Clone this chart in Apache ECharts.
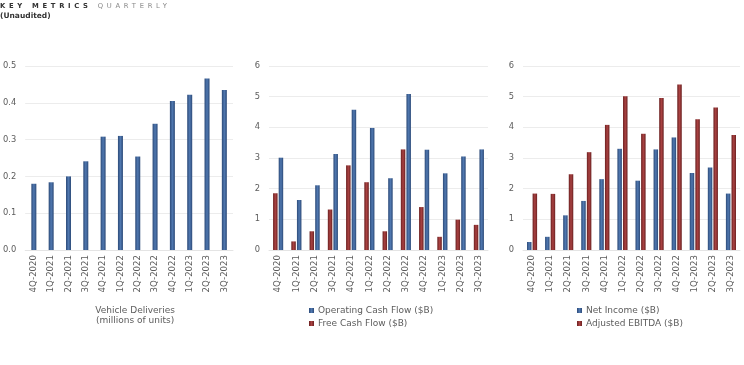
<!DOCTYPE html>
<html>
<head>
<meta charset="utf-8">
<script src="https://cdn.jsdelivr.net/npm/echarts@6/dist/echarts.min.js"></script>
<style>
html,body{margin:0;padding:0;background:#fff;}
#hdr{position:absolute;left:0;top:2px;font-family:"DejaVu Sans",sans-serif;z-index:2;}
#t1{font-size:6.8px;letter-spacing:3.7px;font-weight:bold;color:#333;line-height:9px;}
#t1 span{color:#8a8a8a;font-weight:normal;}
#t2{font-size:7.5px;font-weight:bold;color:#333;line-height:10px;}
#main{width:744px;height:365px;}
</style>
</head>
<body>
<div id="hdr"><div id="t1">KEY METRICS <span>QUARTERLY</span></div><div id="t2">(Unaudited)</div></div>
<div id="main"></div>
<script>
const categories = ['4Q-2020','1Q-2021','2Q-2021','3Q-2021','4Q-2021','1Q-2022','2Q-2022','3Q-2022','4Q-2022','1Q-2023','2Q-2023','3Q-2023'];
const vehicleDeliveries = [0.180, 0.184, 0.200, 0.241, 0.308, 0.310, 0.254, 0.343, 0.405, 0.422, 0.466, 0.435];
const operatingCashFlow = [3.01, 1.63, 2.11, 3.13, 4.57, 3.98, 2.34, 5.09, 3.27, 2.50, 3.05, 3.28];
const freeCashFlow = [1.85, 0.28, 0.61, 1.32, 2.76, 2.21, 0.61, 3.28, 1.40, 0.43, 0.99, 0.82];
const netIncome = [0.26, 0.43, 1.13, 1.60, 2.31, 3.30, 2.26, 3.28, 3.67, 2.51, 2.69, 1.84];
const adjustedEbitda = [1.84, 1.83, 2.47, 3.19, 4.08, 5.01, 3.79, 4.96, 5.40, 4.26, 4.65, 3.75];
const yTicks1 = [0, 0.1, 0.2, 0.3, 0.4, 0.5];
const yTicks23 = [0, 1, 2, 3, 4, 5, 6];

const FONT = 'DejaVu Sans';
const TXT = '#5c5c5c';
function grad(edge, mid){
  return new echarts.graphic.LinearGradient(0,0,1,0,[
    {offset:0,color:edge},{offset:0.5,color:mid},{offset:1,color:edge}]);
}
const BLUE = grad('#2c4a78','#5078b0');
const RED = grad('#6a2020','#aa4242');
const BLUE_L = '#4a78b8';
const RED_L = '#b04040';

function xAx(gi, name){
  return {
    type:'category', gridIndex:gi, data:categories,
    axisTick:{show:false},
    axisLine:{show:true,lineStyle:{color:'#e4e4e4'}},
    axisLabel:{rotate:90, interval:0, margin:5, fontFamily:FONT, fontSize:8.6, color:TXT},
    name:name||'', nameLocation:'middle', nameGap:56,
    nameTextStyle:{fontFamily:FONT,fontSize:9,color:TXT,lineHeight:10,align:'center',padding:[0,0,0,12]}
  };
}
function yAx(gi, ticks, fmt){
  return {
    type:'value', gridIndex:gi, min:ticks[0], max:ticks[ticks.length-1],
    interval:ticks[1]-ticks[0],
    axisLine:{show:false}, axisTick:{show:false},
    splitLine:{lineStyle:{color:'#ececec',width:1}},
    axisLabel:{margin:9, fontFamily:FONT, fontSize:8.3, color:TXT, formatter:fmt}
  };
}

const chart = echarts.init(document.getElementById('main'), null, {renderer:'canvas'});
chart.setOption({
  animation:false,
  grid:[
    {left:25, width:208, top:66, height:184},
    {left:269, width:219, top:66, height:184},
    {left:523, width:217, top:66, height:184}
  ],
  xAxis:[
    xAx(0, 'Vehicle Deliveries\n(millions of units)'),
    xAx(1), xAx(2)
  ],
  yAxis:[
    yAx(0, yTicks1, v=>v.toFixed(1)),
    yAx(1, yTicks23, v=>String(v)),
    yAx(2, yTicks23, v=>String(v))
  ],
  legend:[
    {orient:'vertical', left:309, top:306, itemWidth:5, itemHeight:5, itemGap:4,
     data:['Operating Cash Flow ($B)','Free Cash Flow ($B)'],
     textStyle:{fontFamily:FONT,fontSize:9,color:TXT,padding:[0,0,0,-1]}, icon:'rect', padding:0},
    {orient:'vertical', left:577, top:306, itemWidth:5, itemHeight:5, itemGap:4,
     data:['Net Income ($B)','Adjusted EBITDA ($B)'],
     textStyle:{fontFamily:FONT,fontSize:9,color:TXT,padding:[0,0,0,-1]}, icon:'rect', padding:0}
  ],
  series:[
    {name:'Vehicle Deliveries', type:'bar', xAxisIndex:0, yAxisIndex:0, data:vehicleDeliveries,
     barWidth:5, itemStyle:{color:BLUE}},
    {name:'Free Cash Flow ($B)', type:'bar', xAxisIndex:1, yAxisIndex:1, data:freeCashFlow,
     barWidth:4.5, barGap:'25%', itemStyle:{color:RED}, color:RED_L},
    {name:'Operating Cash Flow ($B)', type:'bar', xAxisIndex:1, yAxisIndex:1, data:operatingCashFlow,
     barWidth:4.5, barGap:'25%', itemStyle:{color:BLUE}, color:BLUE_L},
    {name:'Net Income ($B)', type:'bar', xAxisIndex:2, yAxisIndex:2, data:netIncome,
     barWidth:4.5, barGap:'25%', itemStyle:{color:BLUE}, color:BLUE_L},
    {name:'Adjusted EBITDA ($B)', type:'bar', xAxisIndex:2, yAxisIndex:2, data:adjustedEbitda,
     barWidth:4.5, barGap:'25%', itemStyle:{color:RED}, color:RED_L}
  ]
});
</script>
</body>
</html>
